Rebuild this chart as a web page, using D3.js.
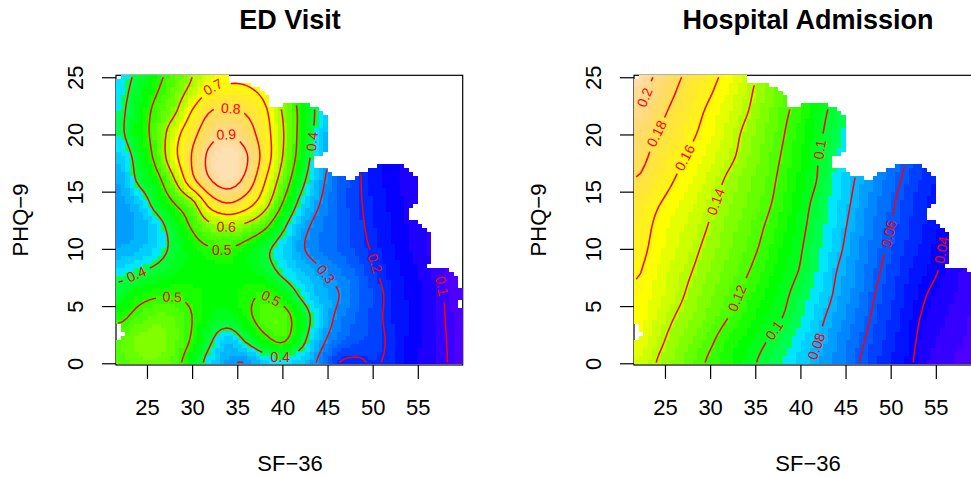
<!DOCTYPE html>
<html>
<head>
<meta charset="utf-8">
<script src="https://cdn.jsdelivr.net/npm/d3@7"></script>
<style>
  html, body { margin: 0; padding: 0; background: #fff; overflow: hidden; }
  text { font-family: "Liberation Sans", Arial, sans-serif; }
</style>
</head>
<body>
<div id="chart"></div>
<script>
const sf36Grid = [22, 24, 26, 28, 30, 32, 34, 36, 38, 40, 42, 44, 46, 48, 50, 52, 54, 56, 58, 60];
const phqGrid = [0, 2, 4, 6, 8, 10, 12, 14, 16, 18, 20, 22, 24, 26];

const edVisit = [
  [.53, .56, .56, .53, .45, .37, .31, .30, .35, .365, .35, .29, .205, .19, .203, .19, .15, .125, .103, .085],
  [.54, .57, .58, .55, .49, .41, .35, .41, .475, .51, .43, .33, .265, .235, .22, .19, .155, .13, .102, .085],
  [.485, .525, .55, .54, .50, .45, .44, .48, .53, .535, .45, .36, .29, .25, .22, .185, .16, .13, .10, .085],
  [.43, .47, .49, .495, .485, .47, .465, .485, .50, .46, .39, .335, .305, .265, .225, .185, .155, .13, .098, .08],
  [.375, .395, .42, .45, .46, .465, .47, .46, .435, .385, .345, .31, .28, .25, .21, .175, .15, .125, .09, .08],
  [.32, .335, .365, .42, .47, .495, .50, .47, .42, .365, .31, .275, .25, .225, .195, .165, .14, .115, .09, .08],
  [.31, .32, .365, .44, .51, .58, .605, .58, .52, .42, .33, .28, .25, .22, .185, .16, .135, .115, .09, .08],
  [.31, .345, .43, .50, .575, .74, .80, .745, .64, .50, .38, .305, .25, .215, .18, .155, .13, .11, .09, .08],
  [.32, .41, .47, .59, .77, .895, .945, .87, .71, .56, .43, .33, .255, .215, .175, .15, .125, .11, .09, .08],
  [.35, .43, .52, .67, .805, .925, .97, .91, .76, .60, .465, .35, .27, .215, .18, .15, .125, .11, .09, .08],
  [.385, .46, .53, .66, .77, .865, .90, .85, .745, .61, .475, .37, .29, .23, .18, .15, .125, .11, .09, .08],
  [.385, .45, .52, .585, .705, .80, .815, .79, .72, .595, .48, .38, .30, .24, .19, .15, .125, .11, .09, .08],
  [.375, .43, .49, .55, .62, .70, .715, .71, .665, .56, .46, .37, .30, .24, .19, .15, .125, .11, .09, .08],
  [.36, .41, .465, .53, .59, .65, .665, .65, .60, .52, .44, .35, .29, .24, .19, .15, .125, .11, .09, .08]
];

const hospitalAdmission = [
  [.148, .14, .133, .125, .118, .111, .104, .097, .091, .084, .077, .07, .062, .055, .048, .042, .034, .03, .027, .025],
  [.153, .144, .136, .129, .122, .114, .108, .101, .095, .087, .08, .072, .064, .057, .05, .043, .036, .032, .029, .026],
  [.156, .148, .14, .134, .127, .12, .113, .106, .10, .092, .083, .075, .067, .059, .052, .044, .038, .034, .03, .027],
  [.158, .151, .144, .137, .13, .124, .117, .11, .103, .095, .087, .078, .07, .061, .054, .046, .04, .036, .032, .029],
  [.161, .153, .146, .14, .133, .127, .121, .114, .106, .099, .09, .08, .072, .063, .056, .048, .043, .038, .033, .03],
  [.164, .156, .149, .143, .136, .13, .124, .1175, .109, .101, .092, .083, .074, .065, .058, .051, .045, .039, .035, .031],
  [.167, .158, .151, .146, .139, .132, .126, .12, .112, .103, .094, .085, .076, .067, .06, .053, .047, .041, .036, .032],
  [.171, .162, .155, .149, .142, .135, .129, .123, .115, .105, .096, .087, .078, .069, .062, .054, .048, .043, .037, .033],
  [.179, .169, .16, .153, .146, .138, .131, .125, .117, .108, .099, .089, .08, .072, .064, .057, .05, .045, .04, .035],
  [.185, .175, .165, .157, .15, .143, .135, .127, .119, .11, .10, .091, .082, .074, .066, .059, .052, .047, .04, .036],
  [.19, .18, .172, .162, .154, .146, .137, .129, .121, .112, .102, .094, .084, .075, .068, .06, .053, .047, .04, .036],
  [.20, .187, .176, .166, .157, .149, .141, .132, .123, .115, .104, .096, .086, .078, .07, .06, .053, .047, .04, .036],
  [.205, .195, .182, .171, .162, .153, .144, .134, .126, .116, .107, .098, .088, .08, .07, .06, .053, .047, .04, .036],
  [.21, .20, .187, .176, .166, .157, .148, .137, .128, .118, .109, .10, .09, .08, .07, .06, .053, .047, .04, .036]
];

const edLevels = [.1, .2, .3, .4, .5, .6, .7, .8, .9];
const hospitalLevels = [.04, .06, .08, .1, .12, .14, .16, .18, .2];

// [level, sf36, phq]
const edLabels = [
  [.7, 32.5, 24], [.8, 34.3, 22.1], [.9, 33.8, 19.75], [.6, 33.6, 11.9], [.5, 33.4, 9.96],
  [.4, 23.75, 7.7], [.5, 27.6, 5.5], [.5, 38.6, 5.6], [.4, 40, .5], [.4, 43.4, 19.4],
  [.3, 44.6, 7.7], [.2, 50, 8.7], [.1, 57.5, 6.75]
];
const hospitalLabels = [
  [.2, 22.5, 23.3], [.18, 24.15, 20.25], [.16, 27.1, 18], [.14, 30.5, 14.1], [.12, 32.9, 5.7],
  [.1, 37, 2.76], [.08, 42, 1.45], [.06, 49.6, 11.5], [.04, 55.6, 9.76], [.1, 42.3, 18.6]
];

// outline of the region that has data, [sf36, phq]
const dataOutline = [
  [21, 26], [34.1, 26], [34.2, 24.5], [36.07, 24.5], [37.2, 24.06], [37.85, 23.7], [38.4, 23.36], [38.45, 22.6],
  [38.8, 22.4], [39.7, 22.4], [40.8, 22.67], [42.3, 22.67], [43.7, 22.3], [44.15, 21.97], [44.7, 21.7],
  [45.2, 21], [45.2, 18.9], [44.15, 18.2], [43.24, 17.77], [43.7, 17.25], [44.7, 17.25], [45.2, 16.9],
  [45.63, 16.55], [46.6, 16.26], [47.9, 16], [48.5, 16.6], [49.4, 16.9], [50.4, 17.25], [50.4, 17.6],
  [52.35, 17.6], [53.35, 17.25], [53.8, 16.9], [54.2, 16.6], [54.7, 16.26], [55.2, 15.67], [55.2, 14.4],
  [54.7, 13.8], [53.8, 13.15], [54.2, 12.7], [55, 12.26], [55.56, 11.9], [56.1, 11.5], [56.67, 11.2],
  [56.67, 8.77], [56.1, 8.44], [57.45, 8.44], [58.55, 8.07], [59.1, 7.7], [59.55, 7.45], [59.55, 6.5],
  [61, 6.5], [61, -1], [21, -1]
];
// little gaps, [sf36 from, sf36 to, phq from, phq to]
const dataHoles = [
  [21, 22.2, 2.05, 3.25], [21, 22.6, 2.3, 2.6], [21, 22.2, 24.85, 26], [41.2, 41.7, 17.4, 17.6], [59.6, 61, 4.9, 5.5]
];

const xTicks = [25, 30, 35, 40, 45, 50, 55];
const yTicks = [0, 5, 10, 15, 20, 25];

const sfRange = [21.57, 59.97];
const phqRange = [-0.1, 25.17];
const nCols = 77, nRows = 72;

const width = 971, height = 477;
const svg = d3.select("#chart").append("svg")
  .attr("width", width).attr("height", height).style("display", "block");

function hasData(sf, phq) {
  if (!d3.polygonContains(dataOutline, [sf, phq])) return false;
  return !dataHoles.some(h => sf >= h[0] && sf <= h[1] && phq >= h[2] && phq <= h[3]);
}

// R's topo.colors
function topoColors(n) {
  let j = Math.floor(n / 3), k = j, i = n - j - k;
  let ramp = (from, to, m) => d3.range(m).map(a => from + (to - from) * a / (m - 1));
  let colors = [];
  ramp(258, 186, i).forEach(h => colors.push(d3.hsl(h, 1, 0.5).formatHex()));
  ramp(138, 66, j).forEach(h => colors.push(d3.hsl(h, 1, 0.5).formatHex()));
  let sats = ramp(1, 0.3, k);
  ramp(60, 36, k).forEach((h, a) => colors.push(d3.hsl(h, 1, 1 - sats[a] / 2).formatHex()));
  return colors;
}

function catmull(p0, p1, p2, p3, t) {
  return 0.5 * (2 * p1 + (p2 - p0) * t + (2 * p0 - 5 * p1 + 4 * p2 - p3) * t * t + (3 * p1 - p0 - 3 * p2 + p3) * t * t * t);
}

// smooth reading of the surface between the grid values
function sampleSurface(rows, sf, phq) {
  let gx = (Math.max(sf36Grid[0], Math.min(60, sf)) - sf36Grid[0]) / 2;
  let gy = Math.max(0, phq) / 2;
  let ix = Math.min(Math.floor(gx), sf36Grid.length - 2), iy = Math.min(Math.floor(gy), phqGrid.length - 2);
  let cx = i => Math.max(0, Math.min(sf36Grid.length - 1, i));
  let cy = i => Math.max(0, Math.min(phqGrid.length - 1, i));
  let col = d3.range(-1, 3).map(d => {
    let r = rows[cy(iy + d)];
    return catmull(r[cx(ix - 1)], r[cx(ix)], r[cx(ix + 1)], r[cx(ix + 2)], gx - ix);
  });
  return catmull(col[0], col[1], col[2], col[3], gy - iy);
}

function drawPanel(opts) {
  let left = opts.left, right = left + 346.7;
  let top = 75.3, bottom = 365;
  let x = d3.scaleLinear().domain(sfRange).range([left, right]);
  let y = d3.scaleLinear().domain([-0.15, 25.17]).range([bottom, top]);
  let gridX = d3.scaleLinear().domain([0, nCols]).range(sfRange);
  let gridY = d3.scaleLinear().domain([0, nRows]).range(phqRange);
  let color = d3.scaleQuantize().domain(opts.domain).range(topoColors(40));

  let g = svg.append("g");

  g.append("rect")
    .attr("x", left).attr("y", top)
    .attr("width", right - left).attr("height", bottom - top)
    .attr("fill", "none").attr("stroke", "#000").attr("stroke-width", 1.2);

  let values = new Array(nCols * nRows);
  let cells = [];
  d3.range(nRows).forEach(r => {
    d3.range(nCols).forEach(c => {
      let sf = gridX(c + 0.5), phq = gridY(r + 0.5);
      let v = sampleSurface(opts.rows, sf, phq);
      values[r * nCols + c] = v;
      if (hasData(sf, phq)) cells.push({r: r, c: c, v: v});
    });
  });

  g.append("g").attr("shape-rendering", "crispEdges")
    .selectAll("rect").data(cells).join("rect")
    .attr("x", d => x(gridX(d.c)))
    .attr("y", d => y(gridY(d.r + 1)))
    .attr("width", d => x(gridX(d.c + 1)) - x(gridX(d.c)))
    .attr("height", d => y(gridY(d.r)) - y(gridY(d.r + 1)))
    .attr("fill", d => color(d.v));

  let toPx = p => [x(gridX(p[0])), y(gridY(p[1]))];
  let onBorder = p => p[0] <= 0 || p[0] >= nCols || p[1] <= 0 || p[1] >= nRows;
  let contours = d3.contours().size([nCols, nRows]).thresholds(opts.levels)(values);
  let line = d3.line();
  let contourG = g.append("g");
  let labelG = g.append("g");

  contours.forEach(contour => {
    let rings = [];
    contour.coordinates.forEach(poly => poly.forEach(ring => rings.push(ring)));

    // snap each label to the nearest point of its own contour
    let placed = [];
    opts.labels.filter(l => Math.abs(l[0] - contour.value) < 1e-9).forEach(l => {
      let target = [x(l[1]), y(l[2])];
      let best = null;
      rings.forEach(ring => {
        ring.forEach((p, i) => {
          if (onBorder(p)) return;
          let q = toPx(p);
          let dist = Math.hypot(q[0] - target[0], q[1] - target[1]);
          if (!best || dist < best.dist) best = {ring: ring, i: i, q: q, dist: dist};
        });
      });
      if (!best) return;
      let n = best.ring.length;
      let a = toPx(best.ring[(best.i - 3 + n) % n]), b = toPx(best.ring[(best.i + 3) % n]);
      let angle = Math.atan2(b[1] - a[1], b[0] - a[0]) * 180 / Math.PI;
      if (angle > 90) angle -= 180;
      if (angle <= -90) angle += 180;
      let text = String(l[0]);
      placed.push({q: best.q, angle: angle, text: text, r: text.length * 3.7 + 3});
    });

    rings.forEach(ring => {
      let run = [];
      let flush = () => {
        if (run.length > 1) {
          contourG.append("path").attr("d", line(run))
            .attr("fill", "none").attr("stroke", "#ff0000").attr("stroke-width", 1.5);
        }
        run = [];
      };
      for (let i = 1; i < ring.length; i++) {
        let a = ring[i - 1], b = ring[i];
        let pa = toPx(a), pb = toPx(b);
        let keep = !onBorder(a) && !onBorder(b)
          && hasData(gridX(a[0]), gridY(a[1])) && hasData(gridX(b[0]), gridY(b[1]))
          && !placed.some(l => Math.hypot(pa[0] - l.q[0], pa[1] - l.q[1]) < l.r || Math.hypot(pb[0] - l.q[0], pb[1] - l.q[1]) < l.r);
        if (keep) {
          if (!run.length) run.push(pa);
          run.push(pb);
        } else {
          flush();
        }
      }
      flush();
    });

    placed.forEach(l => {
      labelG.append("text")
        .attr("transform", `translate(${l.q[0]},${l.q[1]}) rotate(${l.angle})`)
        .attr("text-anchor", "middle").attr("dy", "0.36em")
        .attr("font-size", 14).attr("fill", "#ff0000")
        .text(l.text);
    });
  });

  let xAxis = g.append("g").attr("transform", `translate(0,${bottom})`)
    .call(d3.axisBottom(x).tickValues(xTicks).tickSize(14).tickSizeOuter(0));
  let yAxis = g.append("g").attr("transform", `translate(${left},0)`)
    .call(d3.axisLeft(y).tickValues(yTicks).tickSize(14).tickSizeOuter(0));
  [xAxis, yAxis].forEach(a => {
    a.select(".domain").remove();
    a.selectAll("line").attr("stroke", "#000").attr("stroke-width", 1.2);
    a.selectAll("text").attr("font-size", 22).attr("fill", "#000")
      .style("font-family", '"Liberation Sans", Arial, sans-serif');
  });
  xAxis.selectAll("text").attr("y", 0).attr("dy", 0).attr("transform", "translate(0,50)").attr("text-anchor", "middle");
  yAxis.selectAll("text").attr("x", 0).attr("dy", 0).attr("text-anchor", "middle").attr("transform", "translate(-33,0) rotate(-90)");

  g.append("text").attr("x", left + opts.titleShift).attr("y", 29)
    .attr("text-anchor", "middle").attr("font-size", 27).attr("font-weight", "bold").text(opts.title);
  g.append("text").attr("x", left + opts.titleShift).attr("y", 471)
    .attr("text-anchor", "middle").attr("font-size", 22).text("SF\u221236");
  g.append("text").attr("transform", `translate(${left - 88},220) rotate(-90)`)
    .attr("text-anchor", "middle").attr("font-size", 22).text("PHQ\u22129");
}

drawPanel({left: 116, title: "ED Visit", titleShift: 174, rows: edVisit, levels: edLevels, labels: edLabels, domain: [.07, .97]});
drawPanel({left: 634, title: "Hospital Admission", titleShift: 174, rows: hospitalAdmission, levels: hospitalLevels, labels: hospitalLabels, domain: [.024, .215]});
</script>
</body>
</html>
